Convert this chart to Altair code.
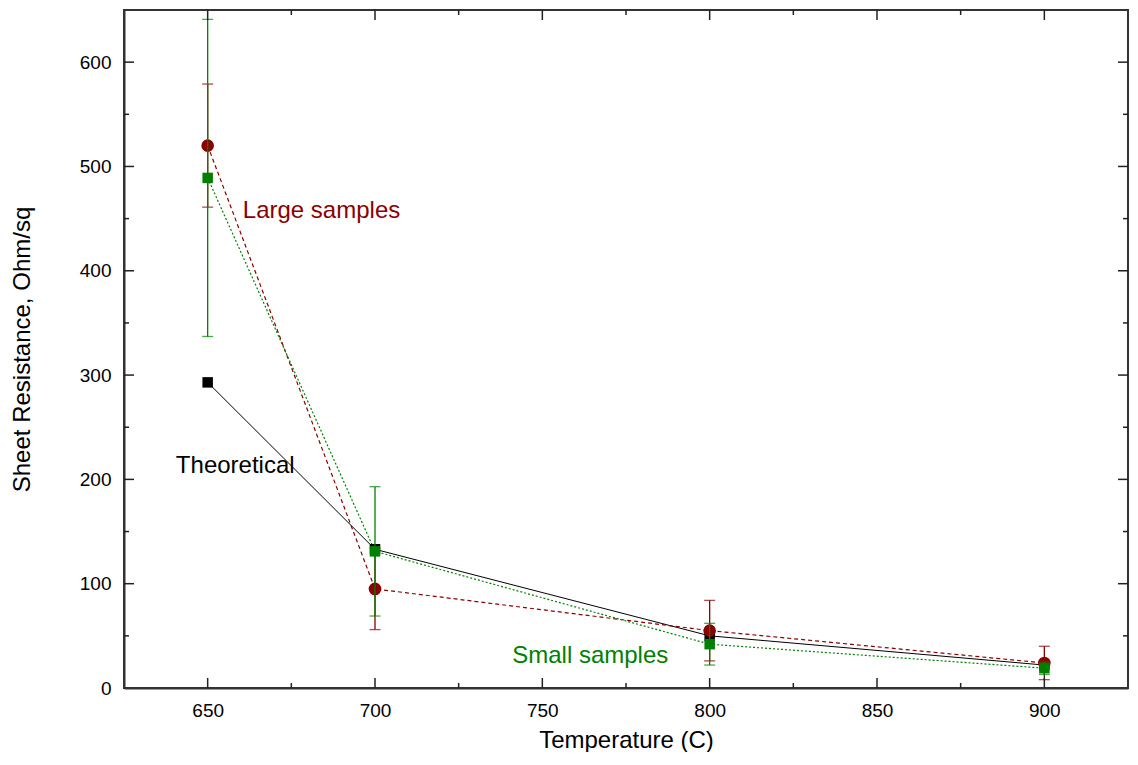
import altair as alt
import pandas as pd

temps = [650, 700, 800, 900]
large_vals = [520, 95, 55, 24]
large_err = [59, 39, 29, 16]
small_vals = [489, 131, 42, 19]
small_err = [152, 62, 20, 6]
theory_vals = [293, 133, 50, 22]

labels = ["Large samples", "Theoretical", "Small samples"]
label_x = [660.5, 640.5, 741]
label_y = [457, 213, 31]
label_colors = ["#8B0000", "#000000", "#008000"]

x_major = [650, 700, 750, 800, 850, 900]
x_minor = [675, 725, 775, 825, 875]
y_major = [100, 200, 300, 400, 500, 600]
y_minor = [50, 150, 250, 350, 450, 550]

RED = "#8B0000"
GREEN = "#008000"
FONT = "Liberation Sans"
W, H = 1004, 678

large = pd.DataFrame({"t": temps, "v": large_vals, "e": large_err})
large["lo"] = large["v"] - large["e"]
large["hi"] = large["v"] + large["e"]
small = pd.DataFrame({"t": temps, "v": small_vals, "e": small_err})
small["lo"] = small["v"] - small["e"]
small["hi"] = small["v"] + small["e"]
theory = pd.DataFrame({"t": temps, "v": theory_vals})
ann = pd.DataFrame({"label": labels, "t": label_x, "v": label_y, "c": label_colors})

xs = alt.Scale(domain=[625, 925], nice=False, zero=False)
ys = alt.Scale(domain=[0, 650], nice=False, zero=True)

x_axis = alt.Axis(values=x_major, format="d", ticks=False, tickSize=0, grid=False,
                  labelFontSize=19, labelFont=FONT, labelColor="#000", labelPadding=13,
                  domainColor="#333", domainWidth=2,
                  titleFontSize=24, titleFont=FONT, titleFontWeight="normal", titleColor="#000",
                  titleY=52, titleBaseline="middle")
y_axis = alt.Axis(values=[0] + y_major, format="d", ticks=False, tickSize=0, grid=False,
                  labelFontSize=19, labelFont=FONT, labelColor="#000", labelPadding=13,
                  domainColor="#333", domainWidth=2,
                  titleFontSize=24, titleFont=FONT, titleFontWeight="normal", titleColor="#000",
                  titleX=-102, titleBaseline="middle")

XT = "Temperature (C)"
YT = "Sheet Resistance, Ohm/sq"


def X(f):
    return alt.X(f"{f}:Q", scale=xs, axis=x_axis, title=XT)


def Y(f):
    return alt.Y(f"{f}:Q", scale=ys, axis=y_axis, title=YT)


# inward ticks
def xticks(vals, length):
    d = pd.DataFrame({"p": vals})
    bot = alt.Chart(d).mark_rule(color="#222", strokeWidth=1.5).encode(
        x=X("p"), y=alt.value(H), y2=alt.value(H - length))
    top = alt.Chart(d).mark_rule(color="#222", strokeWidth=1.5).encode(
        x=X("p"), y=alt.value(0), y2=alt.value(length))
    return [bot, top]


def yticks(vals, length):
    d = pd.DataFrame({"p": vals})
    left = alt.Chart(d).mark_rule(color="#222", strokeWidth=1.5).encode(
        y=Y("p"), x=alt.value(0), x2=alt.value(length))
    right = alt.Chart(d).mark_rule(color="#222", strokeWidth=1.5).encode(
        y=Y("p"), x=alt.value(W), x2=alt.value(W - length))
    return [left, right]


tick_layers = xticks(x_major, 10) + xticks(x_minor, 5) + yticks(y_major, 10) + yticks(y_minor, 5)

theory_line = alt.Chart(theory).mark_line(color="#000", strokeWidth=1).encode(
    x=X("t"), y=Y("v"))
large_line = alt.Chart(large).mark_line(color=RED, strokeWidth=1.2, strokeDash=[4, 3]).encode(
    x=X("t"), y=Y("v"))
small_line = alt.Chart(small).mark_line(color=GREEN, strokeWidth=1.2, strokeDash=[2, 2]).encode(
    x=X("t"), y=Y("v"))

theory_pts = alt.Chart(theory).mark_point(shape="square", filled=True, size=110, color="#000", opacity=1).encode(
    x=X("t"), y=Y("v"))


def err_layers(df, color):
    bar = alt.Chart(df).mark_rule(color=color, strokeWidth=1.3).encode(
        x=X("t"), y=Y("lo"), y2="hi")
    lo = alt.Chart(df).mark_tick(color=color, orient="horizontal", size=11, thickness=1.3).encode(
        x=X("t"), y=Y("lo"))
    hi = alt.Chart(df).mark_tick(color=color, orient="horizontal", size=11, thickness=1.3).encode(
        x=X("t"), y=Y("hi"))
    return [bar, lo, hi]


large_pts = alt.Chart(large).mark_point(shape="circle", filled=True, size=160, color=RED, opacity=1).encode(
    x=X("t"), y=Y("v"))
small_pts = alt.Chart(small).mark_point(shape="square", filled=True, size=110, color=GREEN, opacity=1).encode(
    x=X("t"), y=Y("v"))

texts = alt.Chart(ann).mark_text(align="left", baseline="middle", fontSize=24, font=FONT).encode(
    x=X("t"), y=Y("v"), text="label:N", color=alt.Color("c:N", scale=None))

layers = ([theory_line, large_line, small_line, theory_pts]
          + err_layers(large, RED) + [large_pts]
          + err_layers(small, GREEN) + [small_pts, texts] + tick_layers)

chart = alt.layer(*layers).properties(
    width=W, height=H,
    autosize=alt.AutoSizeParams(type="none"),
    padding={"left": 116, "top": 2, "right": 1, "bottom": 64},
    background="white",
).configure_view(stroke="#333", strokeWidth=2)

chart.save("out.html", embed_options={"renderer": "svg", "actions": False})
